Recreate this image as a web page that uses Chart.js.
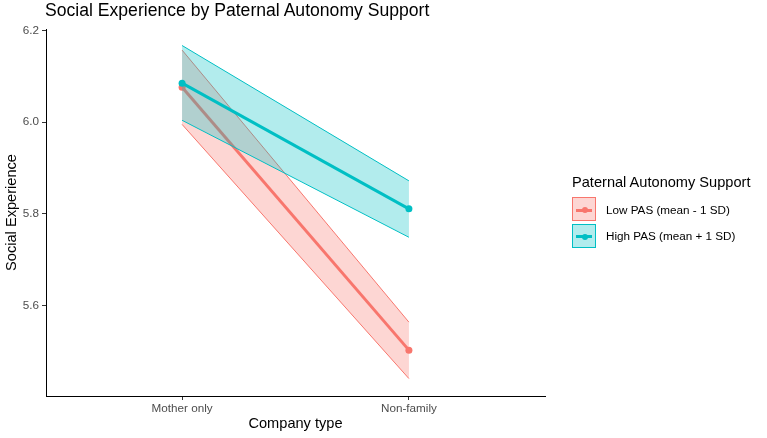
<!DOCTYPE html>
<html>
<head>
<meta charset="utf-8">
<script src="https://cdn.jsdelivr.net/npm/chart.js@4.4.1/dist/chart.umd.min.js"></script>
<style>
    body { margin: 0; background: #fff; font-family: "Liberation Sans", Arial, sans-serif; }
    #wrap { position: relative; width: 767px; height: 438px; }
    #title { position: absolute; left: 45px; top: 0px; font-size: 17.6px; line-height: 21px; color: #000; }
    #legend { position: absolute; left: 572px; top: 172px; color: #000; }
    #legend .ttl { font-size: 14.6px; line-height: 20px; margin-bottom: 4px; }
    .row { display: flex; align-items: center; height: 26.5px; }
    .key { position: relative; width: 24px; height: 24px; box-sizing: border-box; }
    .key .ln { position: absolute; left: 3px; right: 3px; top: 10.5px; height: 3px; }
    .key .pt { position: absolute; left: 9px; top: 9px; width: 6px; height: 6px; border-radius: 50%; }
    .lbl { font-size: 11.7px; margin-left: 10px; }
</style>
</head>
<body>
<div id="wrap">
    <canvas id="chart"></canvas>
    <div id="title">Social Experience by Paternal Autonomy Support</div>
    <div id="legend"></div>
</div>
<script>
// dữ liệu
const categories = ['Mother only', 'Non-family'];
const lowMean = [6.076, 5.503];
const lowUpper = [6.157, 5.564];
const lowLower = [5.995, 5.441];
const highMean = [6.085, 5.811];
const highUpper = [6.167, 5.872];
const highLower = [6.004, 5.749];
const yTicks = [5.6, 5.8, 6.0, 6.2];
const seriesNames = ['Low PAS (mean - 1 SD)', 'High PAS (mean + 1 SD)'];

const RED = '#F8766D';
const CYAN = '#00BFC4';
const RED_FILL = 'rgba(248,118,109,0.3)';
const CYAN_FILL = 'rgba(0,191,196,0.3)';

const toPoints = (arr) => arr.map((v, i) => ({ x: i + 1, y: v }));

const meanLine = (data, color, order) => ({
    data: toPoints(data),
    borderColor: color,
    backgroundColor: color,
    borderWidth: 3,
    pointRadius: 3.5,
    pointBorderWidth: 0,
    pointBackgroundColor: color,
    fill: false,
    order: order
});

const bandLine = (data, color, order, fill, bg) => ({
    data: toPoints(data),
    borderColor: color,
    borderWidth: 1,
    pointRadius: 0,
    fill: fill,
    backgroundColor: bg,
    order: order
});

const datasets = [
    meanLine(highMean, CYAN, 1),
    bandLine(highLower, CYAN, 2, false, CYAN_FILL),
    bandLine(highUpper, CYAN, 2, { target: 1 }, CYAN_FILL),
    meanLine(lowMean, RED, 3),
    bandLine(lowLower, RED, 4, false, RED_FILL),
    bandLine(lowUpper, RED, 4, { target: 4 }, RED_FILL)
];

const tickFont = { family: '"Liberation Sans", Arial, sans-serif', size: 11.7 };
const titleFont = { family: '"Liberation Sans", Arial, sans-serif', size: 14.6 };

new Chart(document.getElementById('chart'), {
    type: 'line',
    data: { datasets: datasets },
    options: {
        responsive: true,
        maintainAspectRatio: false,
        animation: false,
        layout: { padding: { top: 29, right: 222, bottom: 0, left: 0 } },
        plugins: {
            legend: { display: false },
            tooltip: { enabled: false },
            title: { display: false }
        },
        scales: {
            x: {
                type: 'linear',
                min: 0.4,
                max: 2.6,
                afterBuildTicks: (scale) => {
                    scale.ticks = categories.map((c, i) => ({ value: i + 1 }));
                },
                afterFit: (scale) => { scale.height = 42; },
                ticks: {
                    color: '#4D4D4D',
                    font: tickFont,
                    padding: 2,
                    autoSkip: false,
                    maxRotation: 0,
                    callback: (v) => categories[v - 1]
                },
                grid: { display: true, drawOnChartArea: false, drawTicks: true, tickLength: 4, tickColor: '#333', tickWidth: 1 },
                border: { display: true, color: '#000', width: 1 },
                title: { display: true, text: 'Company type', color: '#000', font: titleFont, padding: { top: 0, bottom: 5 } }
            },
            y: {
                type: 'linear',
                min: 5.403,
                max: 6.203,
                afterBuildTicks: (scale) => {
                    scale.ticks = yTicks.map(v => ({ value: v }));
                },
                afterFit: (scale) => { scale.width = 46; },
                ticks: {
                    color: '#4D4D4D',
                    font: tickFont,
                    padding: 3,
                    callback: (v) => v.toFixed(1)
                },
                grid: { display: true, drawOnChartArea: false, drawTicks: true, tickLength: 4, tickColor: '#333', tickWidth: 1 },
                border: { display: true, color: '#000', width: 1 },
                title: { display: true, text: 'Social Experience', color: '#000', font: titleFont, padding: { top: 3, bottom: 0 } }
            }
        }
    }
});

// chú thích (legend) dạng HTML
const legendEl = document.getElementById('legend');
let html = '<div class="ttl">Paternal Autonomy Support</div>';
[[RED, RED_FILL], [CYAN, CYAN_FILL]].forEach((c, i) => {
    html += '<div class="row"><div class="key" style="border:1.5px solid ' + c[0] + ';background:' + c[1] + '">' +
        '<div class="ln" style="background:' + c[0] + '"></div><div class="pt" style="background:' + c[0] + '"></div></div>' +
        '<div class="lbl">' + seriesNames[i] + '</div></div>';
});
legendEl.innerHTML = html;
</script>
</body>
</html>
